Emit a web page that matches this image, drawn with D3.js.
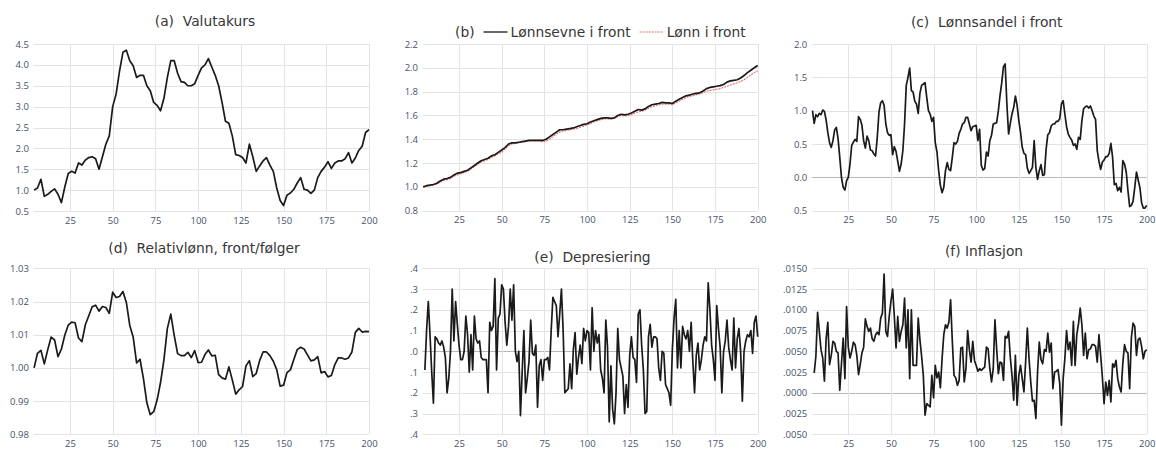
<!DOCTYPE html>
<html>
<head>
<meta charset="utf-8">
<script src="https://cdn.jsdelivr.net/npm/d3@7"></script>
<style>
  body { margin: 0; background: #fff; }
  svg { display: block; font-family: "Open Sans", "Noto Sans", sans-serif; }
  .ttl { font-family: "DejaVu Sans", Verdana, sans-serif; font-size: 13.8px; fill: #363636; white-space: pre; }
</style>
</head>
<body>
<svg id="chart" width="1156" height="450"></svg>
<script>
// ---- periods and tick labels ----
const periodTicks = [25, 50, 75, 100, 125, 150, 175, 200];
const periodsEven = d3.range(4, 201, 2);   // every second period
const periodsAll  = d3.range(4, 201);      // every period
const periodsDiff = d3.range(5, 201);      // differenced series start one period later

const ticksA = [0.5, 1.0, 1.5, 2.0, 2.5, 3.0, 3.5, 4.0, 4.5];
const ticksB = [0.8, 1.0, 1.2, 1.4, 1.6, 1.8, 2.0, 2.2];
const ticksC = [-0.5, 0.0, 0.5, 1.0, 1.5, 2.0];
const ticksD = [0.98, 0.99, 1.00, 1.01, 1.02, 1.03];
const ticksE = [-0.4, -0.3, -0.2, -0.1, 0.0, 0.1, 0.2, 0.3, 0.4];
const ticksF = [-0.005, -0.0025, 0.0, 0.0025, 0.005, 0.0075, 0.01, 0.0125, 0.015];

// ---- series ----
// (a) Valutakurs, every second period
const valutakurs = [
  1.0, 1.05, 1.26, 0.85, 0.9, 0.97, 1.03, 0.9, 0.7, 1.08,
  1.4, 1.45, 1.41, 1.65, 1.6, 1.72, 1.78, 1.8, 1.75, 1.5,
  1.8, 2.1, 2.3, 3.0, 3.3, 3.85, 4.3, 4.35, 4.1, 3.98,
  3.7, 3.75, 3.75, 3.5, 3.38, 3.1, 3.03, 2.9, 3.2, 3.7,
  4.1, 4.1, 3.8, 3.6, 3.58, 3.5, 3.5, 3.55, 3.75, 3.93,
  4.0, 4.15, 3.95, 3.75, 3.5, 3.1, 2.65, 2.6, 2.3, 1.85,
  1.83, 1.78, 1.65, 2.1, 1.8, 1.45, 1.58, 1.7, 1.78, 1.6,
  1.45, 1.05, 0.75, 0.63, 0.88, 0.93, 1.02, 1.17, 1.3, 1.02,
  1.0, 0.92, 1.0, 1.3, 1.45, 1.55, 1.68, 1.52, 1.65, 1.7,
  1.7, 1.75, 1.9, 1.65, 1.77, 1.95, 2.05, 2.38, 2.45
];

// (b) Lønnsevne i front, every second period
const lonnsevne = [
  1.00, 1.01, 1.015, 1.02, 1.03, 1.05, 1.065, 1.07, 1.08, 1.10,
  1.115, 1.12, 1.13, 1.14, 1.16, 1.18, 1.20, 1.22, 1.23, 1.24,
  1.26, 1.27, 1.29, 1.31, 1.33, 1.36, 1.37, 1.37, 1.375, 1.38,
  1.385, 1.39, 1.39, 1.39, 1.39, 1.39, 1.40, 1.42, 1.44, 1.46,
  1.48, 1.48, 1.485, 1.49, 1.495, 1.505, 1.515, 1.525, 1.53, 1.545,
  1.555, 1.565, 1.575, 1.58, 1.58, 1.575, 1.58, 1.60, 1.61, 1.605,
  1.61, 1.62, 1.635, 1.65, 1.645, 1.655, 1.675, 1.69, 1.695, 1.70,
  1.71, 1.705, 1.705, 1.70, 1.72, 1.735, 1.75, 1.765, 1.77, 1.78,
  1.785, 1.79, 1.805, 1.825, 1.835, 1.84, 1.845, 1.85, 1.86, 1.88,
  1.89, 1.895, 1.90, 1.915, 1.935, 1.96, 1.98, 2.00, 2.02
];

// (b) Lønn i front, every second period
const lonn = [
  1.00, 1.005, 1.01, 1.015, 1.025, 1.04, 1.055, 1.06, 1.07, 1.09,
  1.10, 1.11, 1.12, 1.13, 1.15, 1.17, 1.19, 1.21, 1.22, 1.23,
  1.25, 1.26, 1.28, 1.29, 1.32, 1.345, 1.36, 1.365, 1.37, 1.375,
  1.38, 1.385, 1.385, 1.385, 1.385, 1.38, 1.385, 1.40, 1.42, 1.445,
  1.46, 1.47, 1.475, 1.48, 1.485, 1.49, 1.50, 1.51, 1.52, 1.53,
  1.545, 1.555, 1.565, 1.57, 1.57, 1.57, 1.575, 1.59, 1.60, 1.595,
  1.60, 1.605, 1.62, 1.63, 1.635, 1.645, 1.66, 1.675, 1.68, 1.69,
  1.695, 1.695, 1.695, 1.69, 1.705, 1.72, 1.735, 1.75, 1.76, 1.765,
  1.775, 1.78, 1.79, 1.805, 1.81, 1.815, 1.82, 1.825, 1.835, 1.845,
  1.855, 1.865, 1.875, 1.885, 1.90, 1.92, 1.94, 1.96, 1.975
];

// (c) Lønnsandel i front, every period
const lonnsandel = [
  1.0, 0.81, 0.94, 0.91, 0.96, 0.94, 1.01, 0.99, 0.86, 0.67,
  0.52, 0.45, 0.55, 0.71, 0.75, 0.58, 0.3, 0.0, -0.15, -0.19,
  -0.05, 0.0, 0.2, 0.48, 0.53, 0.57, 0.54, 0.91, 0.87, 0.78,
  0.55, 0.44, 0.62, 0.55, 0.41, 0.4, 0.35, 0.32, 0.6, 0.98,
  1.12, 1.15, 1.08, 0.8, 0.67, 0.63, 0.64, 0.34, 0.46, 0.39,
  0.24, 0.09, 0.2, 0.4, 0.8, 1.38, 1.5, 1.64, 1.3, 1.28,
  1.14, 1.1, 0.96, 1.26, 1.38, 1.4, 1.42, 1.2, 1.0, 0.95,
  0.84, 0.9, 0.52, 0.38, 0.1, -0.12, -0.23, -0.15, 0.1, 0.22,
  0.12, 0.1, 0.3, 0.52, 0.5, 0.54, 0.66, 0.72, 0.8, 0.82,
  0.9, 0.9, 0.8, 0.7, 0.76, 0.77, 0.78, 0.55, 0.72, 0.18,
  0.11, 0.13, 0.38, 0.32, 0.55, 0.63, 0.8, 0.81, 0.82, 1.0,
  1.23, 1.42, 1.66, 1.7, 1.1, 0.65, 0.81, 0.95, 1.05, 1.22,
  1.08, 0.85, 0.68, 0.45, 0.36, 0.34, 0.14, 0.06, 0.1, 0.15,
  0.55, 0.15, -0.03, 0.1, 0.19, 0.03, 0.04, 0.42, 0.64, 0.67,
  0.77, 0.8, 0.8, 0.84, 0.84, 0.88, 1.1, 1.15, 0.95, 0.76,
  0.65, 0.6, 0.56, 0.48, 0.5, 0.42, 0.6, 0.57, 0.85, 1.03,
  1.06, 1.07, 1.04, 1.07, 1.0, 0.92, 0.87, 0.4, 0.24, 0.12,
  0.23, 0.26, 0.31, 0.31, 0.36, 0.51, 0.3, -0.11, -0.09, -0.2,
  -0.15, -0.22, 0.25, 0.2, 0.08, -0.2, -0.44, -0.42, -0.36, -0.15,
  0.08, -0.04, -0.15, -0.38, -0.46, -0.46, -0.42
];

// (d) Relativlønn, front/følger, every second period
const relativlonn = [
  1.0, 1.0044, 1.0053, 1.0012, 1.0055, 1.0093, 1.0084, 1.0034, 1.0057, 1.0099,
  1.0129, 1.0138, 1.0136, 1.009, 1.0079, 1.013, 1.0157, 1.0184, 1.0189, 1.0171,
  1.0185, 1.0182, 1.0164, 1.0228, 1.0212, 1.0215, 1.023, 1.0197, 1.0128, 1.0093,
  1.0015, 1.0026, 0.9968, 0.9895, 0.9859, 0.9868, 0.9903, 0.9956, 1.0025, 1.0119,
  1.0162, 1.0098, 1.0043, 1.0037, 1.0037, 1.0047, 1.0031, 1.0052, 1.0016, 1.0017,
  1.004, 1.0054, 1.0036, 1.0038, 0.998, 0.997, 0.9966, 1.0003, 0.9964, 0.9921,
  0.9934, 0.9944, 1.0006, 1.0022, 0.9974, 0.9983, 1.0022, 1.0048, 1.0048, 1.0037,
  1.002, 0.9995, 0.9945, 0.9948, 0.9986, 0.9994, 1.0025, 1.0055, 1.0062, 1.0057,
  1.0039, 1.0021, 1.0024, 1.0034, 0.9985, 0.9989, 0.9973, 0.9977, 1.001, 1.003,
  1.003, 1.0026, 1.003, 1.0048, 1.0107, 1.0119, 1.0108, 1.011, 1.0109
];

// (e) Depresiering, every period from 5
const depresiering = [
  -0.09, 0.1, 0.24, 0.08, -0.1, -0.25, 0.07, 0.06, 0.04, 0.03,
  0.05, 0.02, -0.03, -0.2, -0.13, 0.0, 0.3, 0.05, 0.24, 0.13,
  0.03, -0.04, -0.04, 0.0, 0.17, 0.08, -0.1, 0.08, -0.09, 0.17,
  0.06, 0.04, 0.05, -0.03, -0.04, -0.04, -0.04, -0.2, 0.14, 0.1,
  0.12, 0.35, -0.09, 0.16, 0.18, 0.32, 0.3, 0.14, 0.03, 0.12,
  0.3, 0.15, 0.32, 0.0, -0.05, 0.0, -0.31, -0.1, 0.1, -0.2,
  -0.13, -0.05, 0.15, -0.01, -0.02, 0.03, -0.27, -0.07, -0.04, -0.14,
  -0.04, -0.04, -0.03, -0.09, 0.1, 0.26, 0.24, 0.22, 0.07, 0.18,
  0.3, 0.1, -0.2, -0.19, -0.18, -0.06, -0.18, 0.01, 0.09, -0.11,
  -0.03, 0.03, -0.06, 0.11, 0.05, 0.1, 0.09, -0.09, 0.21, 0.0,
  0.1, 0.04, 0.08, -0.09, -0.13, -0.2, 0.15, 0.02, -0.34, -0.07,
  -0.28, -0.35, -0.2, 0.11, -0.04, -0.08, -0.12, -0.3, -0.16, -0.27,
  -0.02, 0.07, -0.03, -0.04, -0.15, 0.18, 0.2, 0.03, -0.09, -0.3,
  -0.29, 0.07, 0.13, 0.02, 0.07, 0.07, 0.06, -0.08, -0.14, 0.0,
  -0.01, -0.16, -0.18, -0.2, -0.26, 0.01, 0.16, 0.25, -0.08, 0.1,
  -0.08, 0.12, 0.08, 0.06, 0.1, 0.0, 0.14, -0.05, -0.2, -0.02,
  0.04, -0.09, -0.04, 0.03, 0.07, 0.05, 0.33, 0.2, 0.03, -0.04,
  -0.14, 0.22, 0.11, 0.02, -0.2, 0.0, 0.05, 0.15, 0.02, -0.04,
  -0.09, 0.16, -0.08, 0.06, 0.11, 0.0, -0.24, 0.0, 0.05, 0.08,
  0.07, 0.1, -0.01, 0.14, 0.17, 0.07
];

// (f) Inflasjon, every period from 5
const inflasjon = [
  0.0024, 0.0044, 0.0097, 0.0074, 0.0052, 0.0042, 0.0014, 0.0065, 0.0085, 0.0034,
  0.0045, 0.0062, 0.0060, 0.0050, 0.0048, 0.0003, 0.0035, 0.0066, 0.0017, 0.0104,
  0.0055, 0.0042, 0.0050, 0.0061, 0.0058, 0.0045, 0.0022, 0.0034, 0.0048, 0.0055,
  0.0089, 0.0080, 0.0074, 0.0078, 0.0065, 0.0062, 0.0070, 0.0073, 0.0070, 0.0090,
  0.0096, 0.0143, 0.0074, 0.0068, 0.0092, 0.0110, 0.0125, 0.0092, 0.0054, 0.0092,
  0.0062, 0.0074, 0.0082, 0.0114, 0.0054, 0.0100, 0.0017, 0.0100, 0.0033, 0.0033,
  0.0033, 0.0090, 0.0064, 0.0044, 0.0021, -0.0027, -0.0013, -0.0015, -0.0017, 0.0021,
  -0.0006, 0.0033, 0.0018, 0.0025, 0.0006, 0.0041, 0.0070, 0.0082, 0.0078, 0.0085,
  0.0112, 0.0062, 0.0021, 0.0018, 0.0009, 0.0015, 0.0054, 0.0055, 0.0013, 0.0029,
  0.0075, 0.0052, 0.0037, 0.0062, 0.0039, 0.0033, 0.0026, 0.0029, 0.0027, 0.0029,
  0.0031, 0.0055, 0.0053, 0.0029, 0.0013, 0.0029, 0.0088, 0.0053, 0.0023, 0.0037,
  0.0036, 0.0015, 0.0068, 0.0066, 0.0074, 0.0043, 0.0021, -0.0009, 0.0045, -0.0015,
  0.0021, 0.0033, 0.0017, 0.0001, 0.0037, 0.0078, 0.0041, 0.0013, -0.0010, -0.0009,
  -0.0031, 0.0025, 0.0061, 0.0040, 0.0035, 0.0052, 0.0050, 0.0072, 0.0049, 0.0060,
  0.0005, 0.0025, 0.0026, 0.0028, 0.0011, -0.0039, 0.0017, 0.0041, 0.0075, 0.0052,
  0.0061, 0.0033, 0.0086, 0.0033, 0.0070, 0.0083, 0.0102, 0.0082, 0.0045, 0.0072,
  0.0041, 0.0052, 0.0053, 0.0058, 0.0058, 0.0056, 0.0037, 0.0070, 0.0045, 0.0019,
  -0.0013, 0.0013, -0.0003, 0.0015, -0.0011, 0.0035, 0.0031, 0.0039, 0.0017, 0.0007,
  0.0001, 0.0036, 0.0058, 0.0050, 0.0048, 0.0005, 0.0066, 0.0084, 0.0080, 0.0045,
  0.0064, 0.0066, 0.0056, 0.0041, 0.0050, 0.0052
];

// ---- tick label formats (axis labels are printed without sign) ----
const fmtOne  = d => Math.abs(d).toFixed(1);
const fmtTwo  = d => d.toFixed(2);
const fmtDot1 = d => Math.abs(d).toFixed(1).replace(/^0/, "");
const fmtDot4 = d => Math.abs(d).toFixed(4).replace(/^0/, "");

const LINE = "#1a1a1a";
const RED = "#ee6b6b";

const panels = [
  { box: {l: 33.4, r: 369, t: 44, b: 211}, yDom: [0.5, 4.5], ticks: ticksA, fmt: fmtOne,
    title: "(a)  Valutakurs", tx: 205, ty: 25.5,
    series: [{x: periodsEven, y: valutakurs, color: LINE}] },
  { box: {l: 422.5, r: 757.7, t: 44, b: 210.7}, yDom: [0.8, 2.2], ticks: ticksB, fmt: fmtOne,
    legend: true,
    series: [{x: periodsEven, y: lonn, color: RED, w: 1.1, dash: "2,1"},
             {x: periodsEven, y: lonnsevne, color: LINE}] },
  { box: {l: 811.8, r: 1146.7, t: 44, b: 210.7}, yDom: [-0.5, 2.0], ticks: ticksC, fmt: fmtOne,
    zero: true, title: "(c)  Lønnsandel i front", tx: 986.7, ty: 26.5,
    series: [{x: periodsAll, y: lonnsandel, color: LINE}] },
  { box: {l: 33.4, r: 369, t: 268.3, b: 434.3}, yDom: [0.98, 1.03], ticks: ticksD, fmt: fmtTwo,
    title: "(d)  Relativlønn, front/følger", tx: 204, ty: 252.5,
    series: [{x: periodsEven, y: relativlonn, color: LINE}] },
  { box: {l: 422.5, r: 757.7, t: 268.3, b: 434.3}, yDom: [-0.4, 0.4], ticks: ticksE, fmt: fmtDot1,
    zero: true, title: "(e)  Depresiering", tx: 592.5, ty: 262,
    series: [{x: periodsDiff, y: depresiering, color: LINE}] },
  { box: {l: 811.8, r: 1146.7, t: 268.3, b: 434.3}, yDom: [-0.005, 0.015], ticks: ticksF, fmt: fmtDot4,
    zero: true, title: "(f) Inflasjon", tx: 984, ty: 256,
    series: [{x: periodsDiff, y: inflasjon, color: LINE}] }
];

const svg = d3.select("#chart");
svg.append("rect").attr("width", 1156).attr("height", 450).attr("fill", "#fff");

panels.forEach(p => {
  const g = svg.append("g");
  const x = d3.scaleLinear().domain([3.6, 200]).range([p.box.l, p.box.r]);
  const y = d3.scaleLinear().domain(p.yDom).range([p.box.b, p.box.t]);

  // horizontal grid
  g.append("g").selectAll("line").data(p.ticks).join("line")
    .attr("x1", p.box.l).attr("x2", p.box.r)
    .attr("y1", d => Math.round(y(d)) + 0.5).attr("y2", d => Math.round(y(d)) + 0.5)
    .attr("stroke", d => (p.zero && Math.abs(d) < 1e-9) ? "#b8b8b8" : "#e3e3e3")
    .attr("stroke-width", 1);

  // vertical grid
  g.append("g").selectAll("line").data(periodTicks).join("line")
    .attr("x1", d => Math.round(x(d)) + 0.5).attr("x2", d => Math.round(x(d)) + 0.5)
    .attr("y1", p.box.t).attr("y2", p.box.b)
    .attr("stroke", "#e3e3e3").attr("stroke-width", 1);

  // y axis labels
  const ya = d3.axisLeft(y).tickValues(p.ticks).tickFormat(p.fmt).tickSize(0).tickPadding(4.5);
  const yg = g.append("g").attr("transform", `translate(${p.box.l},0)`).call(ya);
  yg.select(".domain").remove();
  yg.selectAll("text").attr("fill", "#46526a").style("font-size", "9.5px")
    .style("font-family", "'Open Sans', 'Noto Sans', sans-serif");

  // x axis labels
  const xa = d3.axisBottom(x).tickValues(periodTicks).tickFormat(d3.format("d")).tickSize(0).tickPadding(6);
  const xg = g.append("g").attr("transform", `translate(0,${p.box.b})`).call(xa);
  xg.select(".domain").remove();
  xg.selectAll("text").attr("fill", "#46526a").style("font-size", "9.5px")
    .style("font-family", "'Open Sans', 'Noto Sans', sans-serif");

  // series lines
  p.series.forEach(s => {
    const pts = s.x.map((t, i) => [t, s.y[i]]);
    g.append("path").datum(pts)
      .attr("fill", "none")
      .attr("stroke", s.color)
      .attr("stroke-width", s.w || 1.7)
      .attr("stroke-linejoin", "round")
      .attr("stroke-dasharray", s.dash || null)
      .attr("d", d3.line().x(d => x(d[0])).y(d => y(d[1])));
  });

  // title
  if (p.title) {
    g.append("text").attr("class", "ttl").attr("x", p.tx).attr("y", p.ty)
      .attr("text-anchor", "middle").text(p.title);
  }

  // legend for panel (b)
  if (p.legend) {
    const ly = 36.5;
    const lg = g.append("g");
    const t0 = lg.append("text").attr("class", "ttl").attr("x", 455).attr("y", ly).text("(b)");
    let cx = 455 + t0.node().getComputedTextLength() + 9;
    lg.append("line").attr("x1", cx).attr("x2", cx + 24).attr("y1", ly - 4.5).attr("y2", ly - 4.5)
      .attr("stroke", LINE).attr("stroke-width", 1.3);
    cx += 27;
    const t1 = lg.append("text").attr("class", "ttl").attr("x", cx).attr("y", ly).text("Lønnsevne i front");
    cx += t1.node().getComputedTextLength() + 9;
    lg.append("line").attr("x1", cx).attr("x2", cx + 24).attr("y1", ly - 4.5).attr("y2", ly - 4.5)
      .attr("stroke", RED).attr("stroke-width", 1.1).attr("stroke-dasharray", "2,1");
    cx += 27;
    lg.append("text").attr("class", "ttl").attr("x", cx).attr("y", ly).text("Lønn i front");
  }
});
</script>
</body>
</html>
